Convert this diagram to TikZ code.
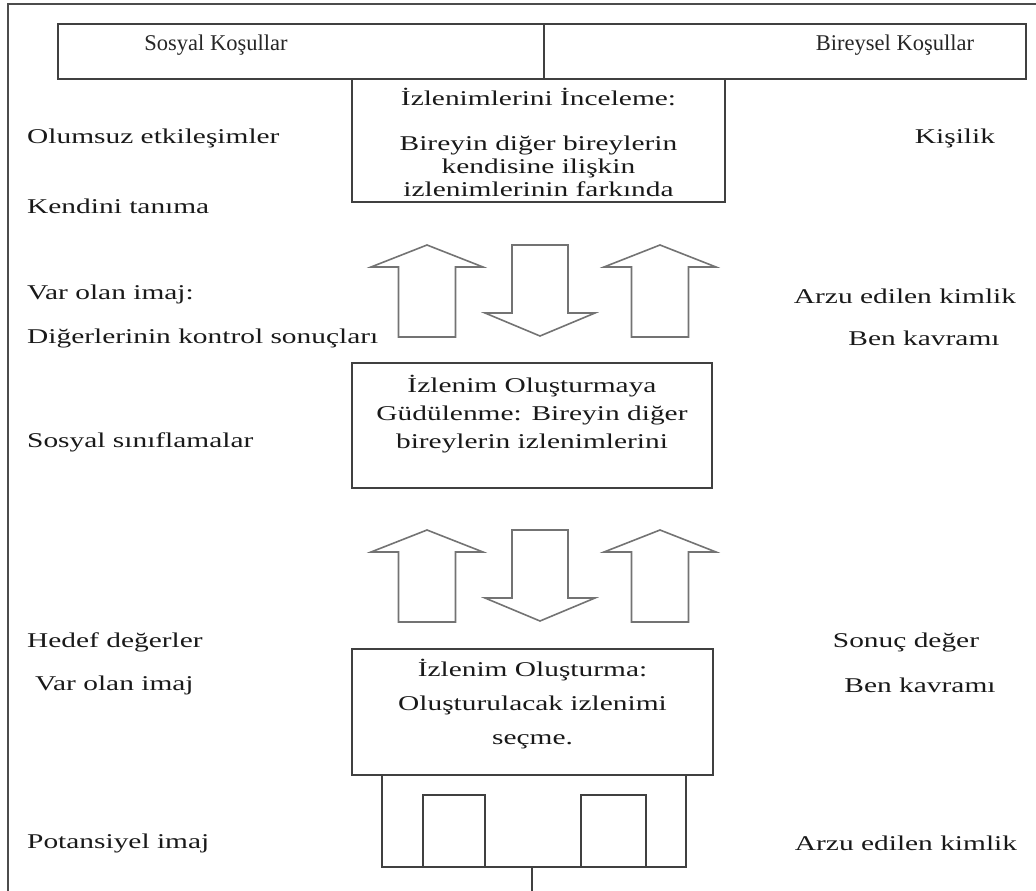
\documentclass[tikz,border=0pt]{standalone}
\usepackage{fontspec}
\setmainfont{Liberation Serif}
\newfontfamily\widefont{Liberation Serif}[FakeStretch=1.4]
\usetikzlibrary{calc}
\begin{document}
\begin{tikzpicture}[x=1pt,y=-1pt,
  frameline/.style={draw=black!70, line width=1.5pt},
  box/.style={draw=black!75, line width=1.8pt, inner sep=0pt, outer sep=0pt},
  lbl/.style={font=\widefont\fontsize{21}{23}\selectfont, text=black!90, inner sep=0pt},
  toplbl/.style={font=\fontsize{22.5}{24}\selectfont, text=black!85, inner sep=0pt},
  blockarrow/.style={draw=black!55, line width=1.6pt, line join=miter, fill=white},
  uparr/.pic={\path[blockarrow] (0,0) -- (56,22) -- (28.5,22) -- (28.5,92) -- (-28.5,92) -- (-28.5,22) -- (-56,22) -- cycle;},
  downarr/.pic={\path[blockarrow] (-28,0) -- (28,0) -- (28,68) -- (55,68) -- (0,91) -- (-55,68) -- (-28,68) -- cycle;},
]
% page size
\useasboundingbox (0,0) rectangle (1036,891);

% outer frame (open on the right)
\coordinate (fbl) at (8,891);
\coordinate (ftl) at (8,4);
\coordinate (ftr) at (1036,4);
\draw[frameline] (fbl) -- (ftl) -- (ftr);

% header: social and individual conditions
\node[box, minimum width=486pt, minimum height=55pt] (sosyal) at (301,51.5) {};
\node[box, minimum width=482pt, minimum height=55pt] (bireysel) at (785,51.5) {};
\node[toplbl] (sosyalt) at (216,45) {Sosyal Koşullar};
\node[toplbl] (bireyselt) at (895,45) {Bireysel Koşullar};

% stage 1: examining impressions
\node[box, minimum width=373pt, minimum height=123pt] (inceleme) at (538.5,140.5) {};
\node[lbl, align=center] (incelemet) at (538.5,142) {İzlenimlerini İnceleme:\\[22pt]
  Bireyin diğer bireylerin\\ kendisine ilişkin\\ izlenimlerinin farkında};

% arrows between stage 1 and stage 2
\pic (ua1) at (427,245) {uparr};
\pic (da1) at (540,245) {downarr};
\pic (ub1) at (660,245) {uparr};

% stage 2: motivation
\node[box, minimum width=360pt, minimum height=125pt] (gudulenme) at (532,425.5) {};
\node[lbl, align=center, font=\widefont\fontsize{21}{28}\selectfont] (gudulenmet) at (532,414)
  {İzlenim Oluşturmaya\\ Güdülenme: Bireyin diğer\\ bireylerin izlenimlerini};

% arrows between stage 2 and stage 3
\pic (ua2) at (427,530) {uparr};
\pic (da2) at (540,530) {downarr};
\pic (ub2) at (660,530) {uparr};

% stage 3: impression construction
\node[box, minimum width=361pt, minimum height=126pt] (olusturma) at (532.5,712) {};
\node[lbl, align=center, font=\widefont\fontsize{21}{34}\selectfont] (olusturmat) at (532.5,704)
  {İzlenim Oluşturma:\\ Oluşturulacak izlenimi\\ seçme.};

% lower frame with two compartments and the stem
\coordinate (lf1) at (382,775);
\coordinate (lf2) at (382,867);
\coordinate (lf3) at (686,867);
\coordinate (lf4) at (686,775);
\draw[box] (lf1) -- (lf2) -- (lf3) -- (lf4);
\coordinate (c1a) at (423,867);
\coordinate (c1b) at (485,867);
\draw[box] (c1a) -- ++(0,-72) -| (c1b);
\coordinate (c2a) at (581,867);
\coordinate (c2b) at (646,867);
\draw[box] (c2a) -- ++(0,-72) -| (c2b);
\coordinate (stemtop) at (532,867);
\coordinate (stembot) at (532,891);
\draw[box] (stemtop) -- (stembot);

% social conditions (left column)
\node[lbl, anchor=west] (l1) at (27,138) {Olumsuz etkileşimler};
\node[lbl, anchor=west] (l2) at (27,206) {Kendini tanıma};
\node[lbl, anchor=west] (l3) at (27,294) {Var olan imaj:};
\node[lbl, anchor=west] (l4) at (27,338) {Diğerlerinin kontrol sonuçları};
\node[lbl, anchor=west] (l5) at (27,442) {Sosyal sınıflamalar};
\node[lbl, anchor=west] (l6) at (27,642) {Hedef değerler};
\node[lbl, anchor=west] (l7) at (35,685) {Var olan imaj};
\node[lbl, anchor=west] (l8) at (27,843) {Potansiyel imaj};

% individual conditions (right column)
\node[lbl] (r1) at (955,138) {Kişilik};
\node[lbl] (r2) at (905,296) {Arzu edilen kimlik};
\node[lbl] (r3) at (924,338) {Ben kavramı};
\node[lbl] (r4) at (906,642) {Sonuç değer};
\node[lbl] (r5) at (920,685) {Ben kavramı};
\node[lbl] (r6) at (906,843) {Arzu edilen kimlik};
\end{tikzpicture}
\end{document}
